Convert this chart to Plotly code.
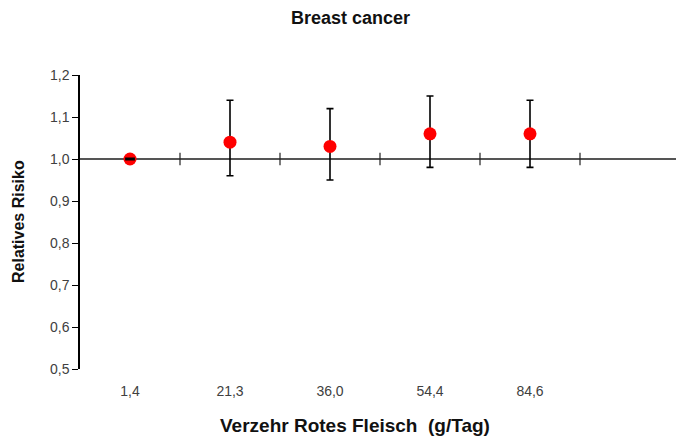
import plotly.graph_objects as go

# Red meat intake categories (g/day) and relative risk of breast cancer
categories = ["1,4", "21,3", "36,0", "54,4", "84,6"]
rr = [1.00, 1.04, 1.03, 1.06, 1.06]
ci_low = [1.00, 0.96, 0.95, 0.98, 0.98]
ci_high = [1.00, 1.14, 1.12, 1.15, 1.14]
y_ticks = [0.5, 0.6, 0.7, 0.8, 0.9, 1.0, 1.1, 1.2]

x_idx = list(range(len(categories)))
err_plus = [h - v for h, v in zip(ci_high, rr)]
err_minus = [v - l for l, v in zip(ci_low, rr)]
# category boundaries for the tick marks along the reference line
boundaries = [i + 0.5 for i in x_idx]
# reference category: its degenerate interval shows as a dash on top of the marker
ref_x = [i for i in x_idx if ci_low[i] == ci_high[i]]
ref_y = [ci_high[i] for i in ref_x]

W, H = 676, 438
L, R, T, B = 80, 0, 75, 69
plot_w = W - L - R
plot_h = H - T - B

fig = go.Figure()

# reference line at RR = 1
fig.add_shape(type="line", xref="paper", x0=0, x1=1, yref="y", y0=1.0, y1=1.0,
              line=dict(color="#555555", width=2), layer="below")

# tick marks crossing the reference line
fig.add_trace(go.Scatter(
    x=boundaries, y=[1.0] * len(boundaries), mode="markers",
    marker=dict(symbol="line-ns", size=9, line=dict(color="#222222", width=1.2)),
    hoverinfo="skip", showlegend=False,
))

# confidence intervals (behind the markers)
fig.add_trace(go.Scatter(
    x=x_idx, y=rr, mode="markers",
    marker=dict(color="rgba(0,0,0,0)", size=1),
    error_y=dict(type="data", symmetric=False, array=err_plus, arrayminus=err_minus,
                 color="#000000", thickness=1.6, width=3.5),
    showlegend=False, hoverinfo="skip",
))

# point estimates
fig.add_trace(go.Scatter(
    x=x_idx, y=rr, mode="markers",
    marker=dict(color="#ff0000", size=13, line=dict(width=0)),
    showlegend=False,
))

# zero-width interval of the reference category
fig.add_trace(go.Scatter(
    x=ref_x, y=ref_y, mode="markers",
    marker=dict(symbol="line-ew", size=7, line=dict(color="#000000", width=3)),
    showlegend=False, hoverinfo="skip",
))

tick_font = dict(family="Liberation Sans, Arial", size=14, color="#404040")

fig.update_xaxes(
    range=[-0.5, -0.5 + plot_w / 100.0],
    tickmode="array", tickvals=x_idx, ticktext=categories,
    ticks="outside", ticklen=9, tickcolor="rgba(0,0,0,0)",
    showline=False, showgrid=False, zeroline=False,
    tickfont=tick_font,
)
fig.update_yaxes(
    range=[0.5, 1.2],
    tickmode="array", tickvals=y_ticks, tickformat=".1f",
    ticks="outside", ticklen=6, tickcolor="#000000", tickwidth=1.2,
    showline=True, linecolor="#000000", linewidth=1.5,
    showgrid=False, zeroline=False,
    tickfont=tick_font,
)

bold = dict(family="Liberation Sans, Arial", color="#111111")
fig.add_annotation(text="<b>Breast cancer</b>", xref="paper", yref="paper",
                   x=(350 - L) / plot_w, y=(H - B - 18) / plot_h,
                   xanchor="center", yanchor="middle", showarrow=False,
                   font=dict(size=18, **bold))
fig.add_annotation(text="<b>Verzehr Rotes Fleisch  (g/Tag)</b>", xref="paper", yref="paper",
                   x=(355 - L) / plot_w, y=(H - B - 425) / plot_h,
                   xanchor="center", yanchor="middle", showarrow=False,
                   font=dict(size=19, **bold))
fig.add_annotation(text="<b>Relatives Risiko</b>", xref="paper", yref="paper",
                   x=(18 - L) / plot_w, y=0.5, textangle=-90,
                   xanchor="center", yanchor="middle", showarrow=False,
                   font=dict(size=16, **bold))

fig.update_layout(
    width=W, height=H,
    margin=dict(l=L, r=R, t=T, b=B),
    paper_bgcolor="#ffffff", plot_bgcolor="#ffffff",
    separators=", ",
    showlegend=False,
)

fig.write_html("out.html")
